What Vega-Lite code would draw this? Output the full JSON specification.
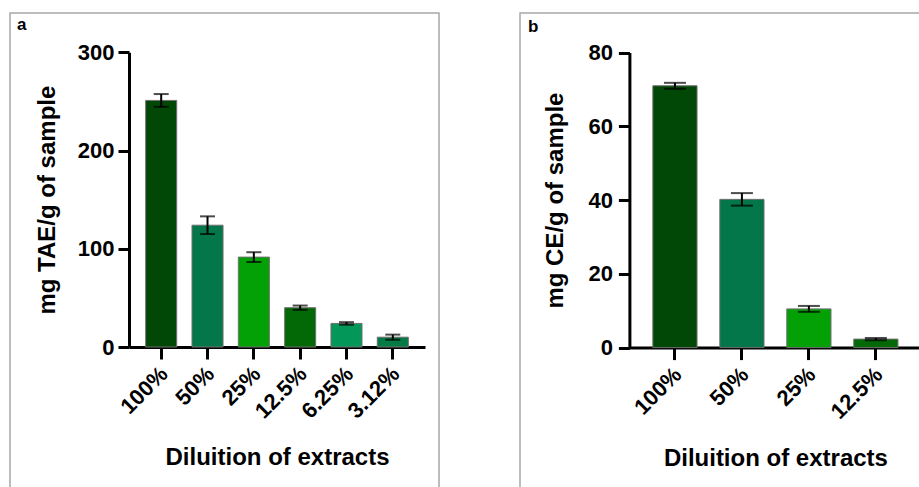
{
  "$schema": "https://vega.github.io/schema/vega-lite/v6.json",
  "padding": {"left": 9, "top": 12, "right": 0, "bottom": 0},
  "autosize": {"type": "pad"},
  "background": "white",
  "spacing": 79,
  "config": {
    "view": {"stroke": "#a8a8a8", "strokeWidth": 1.5},
    "font": "Liberation Sans",
    "axis": {
      "grid": false,
      "domainColor": "black",
      "domainWidth": 3,
      "tickColor": "black",
      "tickWidth": 3,
      "labelColor": "black",
      "labelFont": "Liberation Sans",
      "labelFontWeight": "bold",
      "labelFontSize": 22,
      "titleColor": "black",
      "titleFont": "Liberation Sans",
      "titleFontWeight": "bold",
      "titleFontSize": 24
    },
    "title": {"font": "Liberation Sans", "fontWeight": "bold", "fontSize": 17, "color": "black", "anchor": "start", "frame": "group"}
  },
  "hconcat": [
    {
      "width": 429,
      "height": 480,
      "title": {"text": "a", "offset": -21, "dx": 7},
      "data": {"values": [
        {"dilution": "100%", "mean": 251, "sd": 6.5},
        {"dilution": "50%", "mean": 124, "sd": 9},
        {"dilution": "25%", "mean": 91.5, "sd": 5},
        {"dilution": "12.5%", "mean": 40, "sd": 2.2},
        {"dilution": "6.25%", "mean": 24, "sd": 1.3},
        {"dilution": "3.12%", "mean": 10, "sd": 2.6}
      ]},
      "encoding": {
        "x": {"field": "dilution", "type": "nominal", "sort": null,
          "scale": {"range": [119, 415], "paddingInner": 0.33, "paddingOuter": 0.36},
          "axis": {"title": "Diluition of extracts", "offset": -146, "labelAngle": -45, "labelOffset": -4, "tickSize": 12, "labelPadding": 4, "titlePadding": 24}},
        "y": {"field": "mean", "type": "quantitative",
          "scale": {"domain": [0, 300], "range": [334, 39.3], "nice": false, "zero": true},
          "axis": {"title": "mg TAE/g of sample", "offset": -119, "values": [0, 100, 200, 300], "tickSize": 11, "labelPadding": 4, "titlePadding": 18}}
      },
      "layer": [
        {"mark": {"type": "bar", "stroke": "#707070", "strokeWidth": 1},
         "encoding": {"color": {"field": "dilution", "type": "nominal", "sort": null, "legend": null,
           "scale": {"domain": ["100%", "50%", "25%", "12.5%", "6.25%", "3.12%"], "range": ["#014705", "#04774a", "#03a006", "#036806", "#04975a", "#047a45"]}}}},
        {"mark": {"type": "errorbar", "color": "black", "ticks": {"size": 15, "thickness": 2, "color": "black"}, "rule": {"strokeWidth": 2}},
         "encoding": {"yError": {"field": "sd"}}}
      ]
    },
    {
      "width": 405,
      "height": 480,
      "title": {"text": "b", "offset": -23, "dx": 8},
      "data": {"values": [
        {"dilution": "100%", "mean": 71, "sd": 0.8},
        {"dilution": "50%", "mean": 40.2, "sd": 1.7},
        {"dilution": "25%", "mean": 10.5, "sd": 0.8},
        {"dilution": "12.5%", "mean": 2.3, "sd": 0.3}
      ]},
      "encoding": {
        "x": {"field": "dilution", "type": "nominal", "sort": null,
          "scale": {"range": [109.4, 401.4], "paddingInner": 0.34, "paddingOuter": 0.35},
          "axis": {"title": "Diluition of extracts", "offset": -145.4, "labelAngle": -45, "labelOffset": -4, "tickSize": 12, "labelPadding": 4, "titlePadding": 24}},
        "y": {"field": "mean", "type": "quantitative",
          "scale": {"domain": [0, 80], "range": [334.6, 39.6], "nice": false, "zero": true},
          "axis": {"title": "mg CE/g of sample", "offset": -109.4, "values": [0, 20, 40, 60, 80], "tickSize": 11, "labelPadding": 6, "titlePadding": 20}}
      },
      "layer": [
        {"mark": {"type": "bar", "stroke": "#707070", "strokeWidth": 1},
         "encoding": {"color": {"field": "dilution", "type": "nominal", "sort": null, "legend": null,
           "scale": {"domain": ["100%", "50%", "25%", "12.5%"], "range": ["#014705", "#04774a", "#03a006", "#036806"]}}}},
        {"mark": {"type": "errorbar", "color": "black", "ticks": {"size": 22, "thickness": 2, "color": "black"}, "rule": {"strokeWidth": 2}},
         "encoding": {"yError": {"field": "sd"}}}
      ]
    }
  ]
}
